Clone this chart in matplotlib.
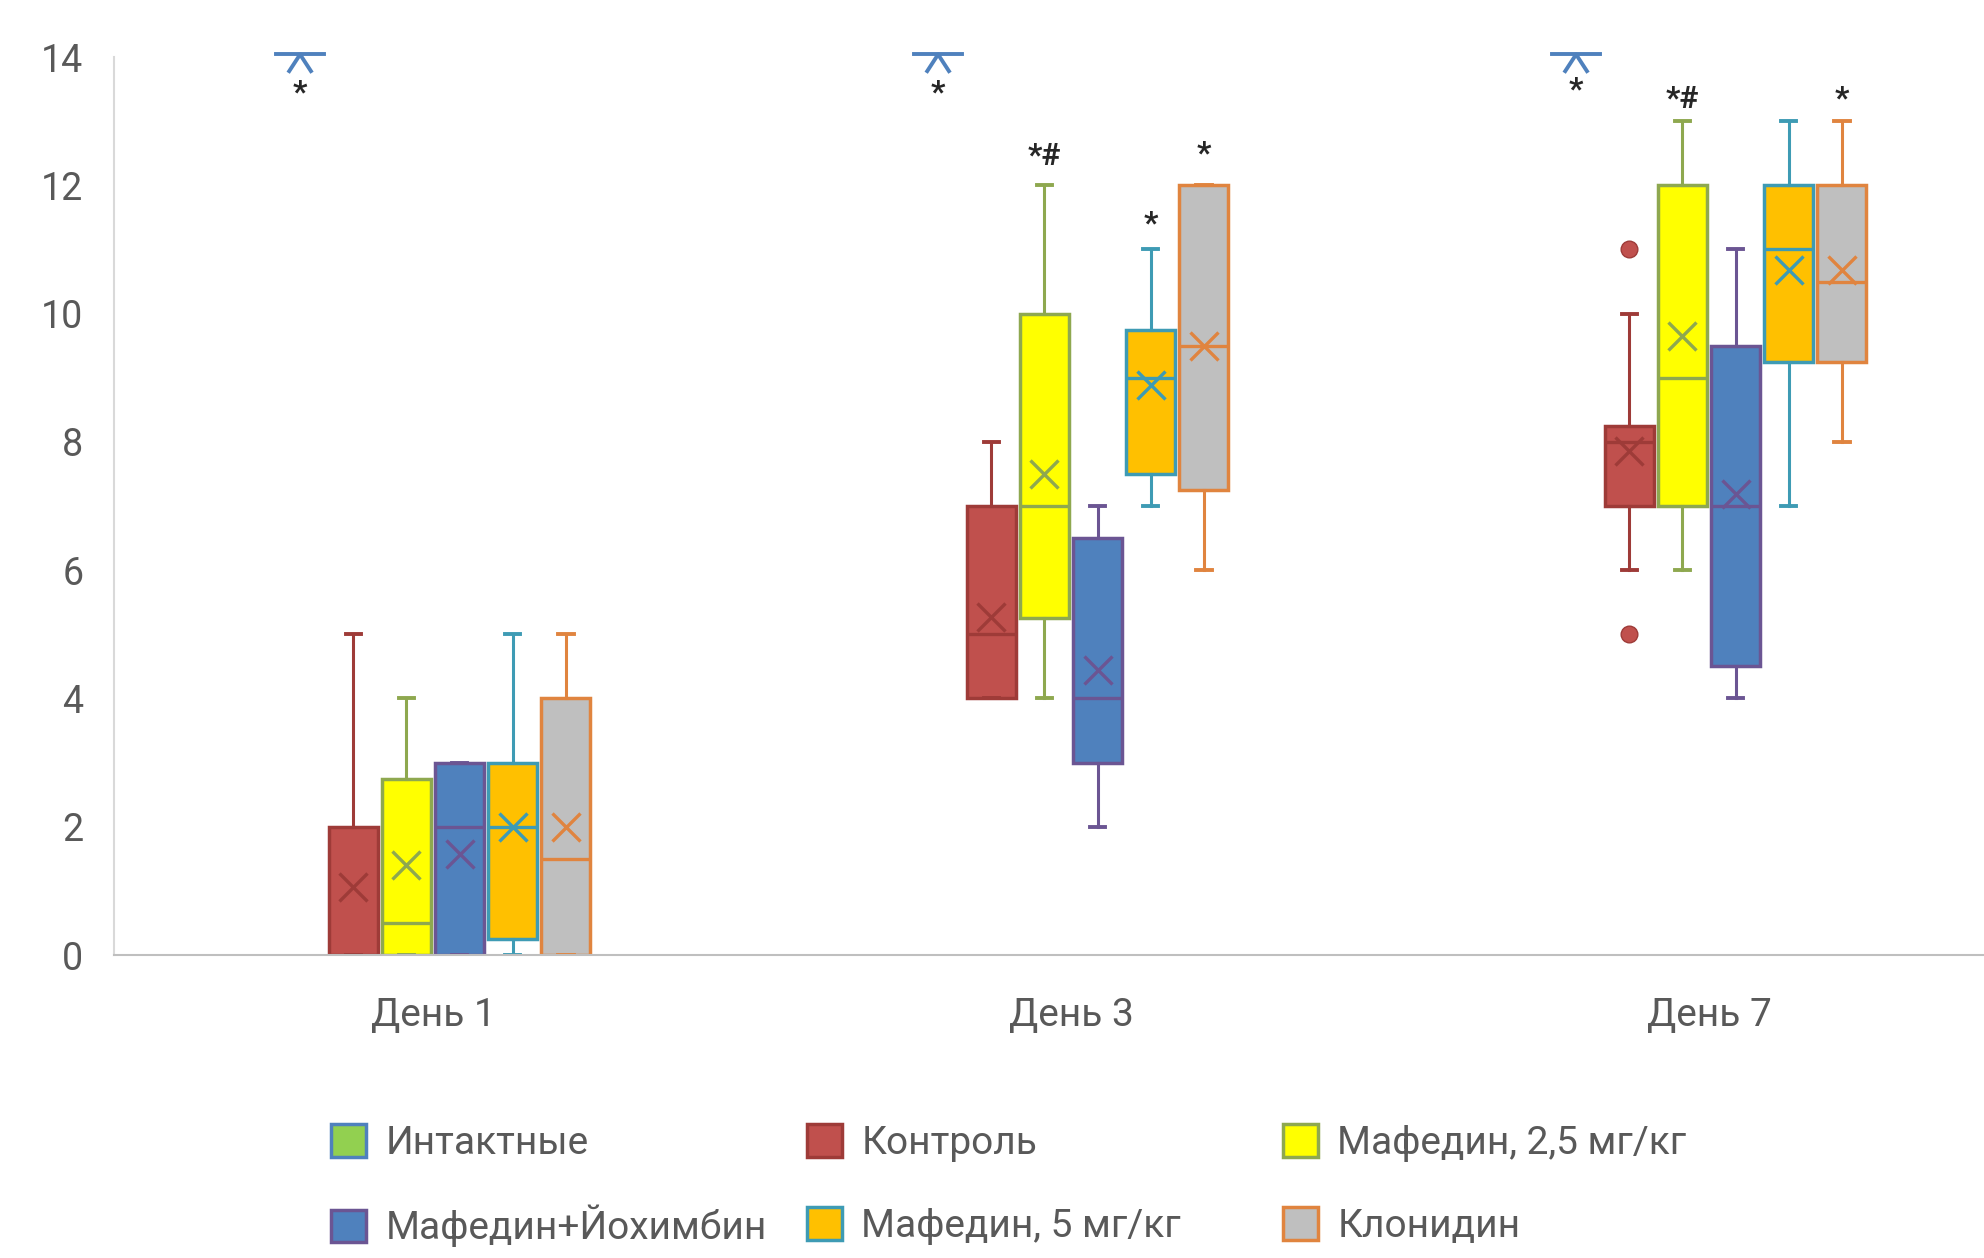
"""Box plot: Мафедин groups by day."""
import matplotlib
matplotlib.use("Agg")
import matplotlib.pyplot as plt
from matplotlib.patches import Patch

plt.rcParams["font.family"] = ["Roboto", "DejaVu Sans"]

days = ["День 1", "День 3", "День 7"]
groups = ["Интактные", "Контроль", "Мафедин, 2,5 мг/кг",
          "Мафедин+Йохимбин", "Мафедин, 5 мг/кг", "Клонидин"]
fills = ["#92D050", "#C0504D", "#FFFF00", "#4F81BD", "#FFC000", "#BFBFBF"]
edges = ["#4F81BD", "#9E3B38", "#8EA84F", "#6B5593", "#3E9BB4", "#E0843F"]

# boxed groups (Контроль .. Клонидин), one value per day
box_q1 = [[0, 4, 7], [0, 5.25, 7], [0, 3, 4.5], [0.25, 7.5, 9.25], [0, 7.25, 9.25]]
box_med = [[0, 5, 8], [0.5, 7, 9], [2, 4, 7], [2, 9, 11], [1.5, 9.5, 10.5]]
box_q3 = [[2, 7, 8.25], [2.75, 10, 12], [3, 6.5, 9.5], [3, 9.75, 12], [4, 12, 12]]
whis_lo = [[0, 4, 6], [0, 4, 6], [0, 2, 4], [0, 7, 7], [0, 6, 8]]
whis_hi = [[5, 8, 10], [4, 12, 13], [3, 7, 11], [5, 11, 13], [5, 12, 13]]
means = [[1.06, 5.27, 7.86], [1.4, 7.5, 9.65], [1.57, 4.44, 7.18],
         [2.0, 8.89, 10.68], [2.0, 9.5, 10.68]]
outliers = [[[], [], [5, 11]], [[], [], []], [[], [], []], [[], [], []], [[], [], []]]

# intact group sits on the top of the axis
intact_level = [14, 14, 14]

# significance marks: (group index, day index, text, y)
marks_group = [0, 0, 0, 2, 4, 5, 2, 5]
marks_day = [0, 1, 2, 1, 1, 1, 2, 2]
marks_text = ["*", "*", "*", "*#", "*", "*", "*#", "*"]
marks_y = [13.45, 13.45, 13.5, 12.45, 11.4, 12.5, 13.35, 13.35]

TXT = "#595959"
STEP = 1 / 12
WIDTH = 0.077


def offset(i):
    return (i - 2.5) * STEP


fig = plt.figure(figsize=(19.84, 12.58), dpi=100)
ax = fig.add_axes([114 / 1984, 1 - 955 / 1258, 1 - 114 / 1984, (955 - 57) / 1258])

for g in range(5):
    gi = g + 1
    stats = []
    for d in range(3):
        stats.append({
            "q1": box_q1[g][d], "med": box_med[g][d], "q3": box_q3[g][d],
            "whislo": whis_lo[g][d], "whishi": whis_hi[g][d],
            "mean": means[g][d], "fliers": outliers[g][d],
        })
    pos = [d + offset(gi) for d in range(3)]
    ec = edges[gi]
    ax.bxp(stats, positions=pos, widths=WIDTH, patch_artist=True,
           showmeans=True, manage_ticks=False, capwidths=0.024,
           boxprops=dict(facecolor=fills[gi], edgecolor=ec, linewidth=2.5),
           medianprops=dict(color=ec, linewidth=2.4),
           whiskerprops=dict(color=ec, linewidth=2.2),
           capprops=dict(color=ec, linewidth=2.8),
           meanprops=dict(marker="x", markeredgecolor=ec, markersize=20,
                          markeredgewidth=2.4),
           flierprops=dict(marker="o", markerfacecolor=fills[gi],
                           markeredgecolor=ec, markersize=12))

# intact group glyph
for d in range(3):
    x = d + offset(0)
    y = intact_level[d]
    ax.plot([x - 0.038, x + 0.038], [y + 0.04, y + 0.04], color=edges[0],
            lw=2.8, clip_on=False, zorder=5)
    ax.plot([x - 0.017, x, x + 0.017], [y - 0.22, y + 0.04, y - 0.22],
            color=edges[0], lw=2.8, clip_on=False, zorder=5)

for g, d, t, y in zip(marks_group, marks_day, marks_text, marks_y):
    ax.text(d + offset(g), y, t, ha="center", va="center", fontsize=23,
            fontweight="bold", color="#262626", clip_on=False)

ax.set_ylim(0, 14)
ax.set_xlim(-0.5, -0.5 + 1870 / 638)
ax.set_yticks(range(0, 15, 2))
ax.set_xticks(range(3))
ax.set_xticklabels(days)
ax.tick_params(axis="both", length=0, labelcolor=TXT)
ax.tick_params(axis="y", pad=22, labelsize=27)
ax.tick_params(axis="x", pad=30, labelsize=28)
for s in ["top", "right"]:
    ax.spines[s].set_visible(False)
ax.spines["left"].set_color("#D9D9D9")
ax.spines["left"].set_linewidth(1.5)
ax.spines["bottom"].set_color("#BFBFBF")
ax.spines["bottom"].set_linewidth(1.5)
ax.spines["bottom"].set_linestyle((0, (2, 1)))

# legend: fixed grid of 3 columns x 2 rows, row-wise order
col_x = [331, 807, 1283]
row_y = [1143, 1226]
for i in range(6):
    r, c = divmod(i, 3)
    h = Patch(facecolor=fills[i], edgecolor=edges[i], linewidth=2.5)
    fig.legend([h], [groups[i]], loc="center left",
               bbox_to_anchor=(col_x[c] / 1984, 1 - row_y[r] / 1258),
               frameon=False, fontsize=28, labelcolor=TXT, borderpad=0,
               borderaxespad=0, handlelength=0.9, handleheight=0.9,
               handletextpad=0.5)

fig.savefig("out.png", dpi=100)
